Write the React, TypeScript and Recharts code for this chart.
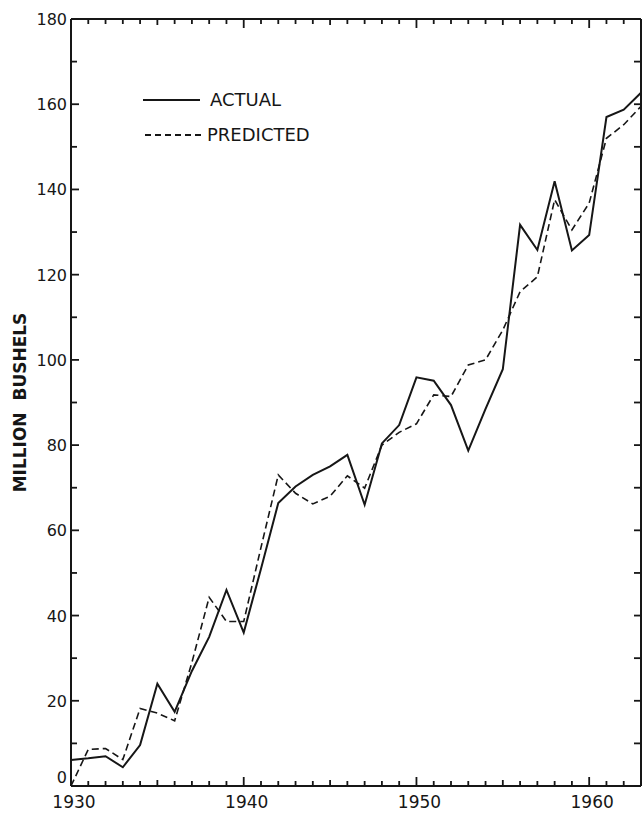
import { LineChart, Line, XAxis, YAxis } from 'recharts'

const years = [
  1930, 1931, 1932, 1933, 1934, 1935, 1936, 1937, 1938, 1939, 1940, 1941,
  1942, 1943, 1944, 1945, 1946, 1947, 1948, 1949, 1950, 1951, 1952, 1953,
  1954, 1955, 1956, 1957, 1958, 1959, 1960, 1961, 1962, 1963,
]
const actual = [
  6.1, 6.5, 7, 4.4, 9.6, 24, 17.4, 27, 35, 46, 36, 51,
  66.4, 70.3, 73, 75, 77.7, 66, 80.4, 84.7, 95.9, 95.1, 89.4, 78.7,
  88.5, 97.8, 131.7, 125.8, 141.9, 125.7, 129.3, 157, 158.7, 162.7,
]
const predicted = [
  0, 8.6, 8.8, 6.2, 18.2, 17.1, 15.3, 29, 44.3, 38.6, 38.6, 56,
  73, 68.7, 66.2, 68, 72.8, 69.9, 80, 83, 85, 91.8, 91.4, 98.8,
  100, 107, 116, 119.5, 137.6, 130.5, 136.8, 152, 155.2, 159.5,
]
const valueTicks = [0, 10, 20, 30, 40, 50, 60, 70, 80, 90, 100, 110, 120, 130, 140, 150, 160, 170, 180]
const seriesNames = ['ACTUAL', 'PREDICTED']
const axisTitle = 'MILLION  BUSHELS'

const data = years.map((year, i) => ({ year, actual: actual[i], predicted: predicted[i] }))

const FONT = '"DejaVu Sans", sans-serif'
const INK = '#161616'

function yearTickLen(v: number) {
  if (v % 10 === 0) return 9
  if (v % 5 === 0) return 6
  return 5
}

function BottomTick({ x, y, payload }: any) {
  const v = payload.value
  return (
    <g>
      <line x1={x} y1={y} x2={x} y2={y - yearTickLen(v)} stroke={INK} strokeWidth={1.8} />
      {v % 10 === 0 && (
        <text x={x + 3} y={y + 22} textAnchor="middle" fontSize={17} fontFamily={FONT} fill={INK}>
          {v}
        </text>
      )}
    </g>
  )
}

function TopTick({ x, y, payload }: any) {
  const v = payload.value
  return <line x1={x} y1={y} x2={x} y2={y + yearTickLen(v)} stroke={INK} strokeWidth={1.8} />
}

function LeftTick({ x, y, payload }: any) {
  const v = payload.value
  const major = v % 20 === 0
  return (
    <g>
      <line x1={x} y1={y} x2={x + (major ? 8 : 6)} y2={y} stroke={INK} strokeWidth={1.8} />
      {major && (
        <text
          x={x - 4}
          y={v === 0 ? y - 3 : y + 6}
          textAnchor="end"
          fontSize={16}
          fontFamily={FONT}
          fill={INK}
        >
          {v}
        </text>
      )}
    </g>
  )
}

function RightTick({ x, y }: any) {
  return <line x1={x} y1={y} x2={x - 7} y2={y} stroke={INK} strokeWidth={1.8} />
}

function ChartLegend() {
  return (
    <div
      style={{
        position: 'absolute',
        left: 143,
        top: 82,
        fontFamily: FONT,
        fontSize: 18,
        color: INK,
      }}
    >
      {seriesNames.map((name, i) => (
        <div key={name} style={{ display: 'flex', alignItems: 'center', height: 35 }}>
          <svg width={64} height={10} style={{ marginRight: i === 0 ? 3 : 0 }}>
            <line
              x1={i === 0 ? 0 : 2}
              y1={5}
              x2={i === 0 ? 57 : 62}
              y2={5}
              stroke={INK}
              strokeWidth={i === 0 ? 2 : 1.8}
              strokeDasharray={i === 0 ? undefined : '6 4'}
            />
          </svg>
          <span>{name}</span>
        </div>
      ))}
    </div>
  )
}

export default function App() {
  return (
    <div style={{ position: 'absolute', left: 0, top: 0, width: 642, height: 813, background: '#fff' }}>
      <LineChart width={642} height={813} data={data} margin={{ top: 18, right: 0, bottom: 0, left: 0 }}>
        <XAxis
          dataKey="year"
          type="number"
          domain={[1930, 1963]}
          ticks={years}
          interval={0}
          height={27}
          tickSize={0}
          tickMargin={0}
          tick={<BottomTick />}
          axisLine={{ stroke: INK, strokeWidth: 2 }}
          tickLine={false}
        />
        <XAxis
          xAxisId="top"
          dataKey="year"
          orientation="top"
          type="number"
          domain={[1930, 1963]}
          ticks={years}
          interval={0}
          height={1}
          tickSize={0}
          tickMargin={0}
          tick={<TopTick />}
          axisLine={{ stroke: INK, strokeWidth: 2 }}
          tickLine={false}
        />
        <YAxis
          type="number"
          domain={[0, 180]}
          ticks={valueTicks}
          interval={0}
          width={71}
          tickSize={0}
          tickMargin={0}
          tick={<LeftTick />}
          axisLine={{ stroke: INK, strokeWidth: 2 }}
          tickLine={false}
          label={{
            content: ({ viewBox }: any) => {
              const cx = viewBox.x + 20
              const cy = viewBox.y + viewBox.height / 2
              return (
                <text
                  x={cx}
                  y={cy}
                  transform={`rotate(-90 ${cx} ${cy})`}
                  textAnchor="middle"
                  dominantBaseline="central"
                  fontSize={17}
                  fontWeight="bold"
                  fontFamily={FONT}
                  fill={INK}
                  style={{ whiteSpace: 'pre' }}
                >
                  {axisTitle}
                </text>
              )
            },
          }}
        />
        <YAxis
          yAxisId="right"
          orientation="right"
          type="number"
          domain={[0, 180]}
          ticks={valueTicks}
          interval={0}
          width={1}
          tickSize={0}
          tickMargin={0}
          tick={<RightTick />}
          axisLine={{ stroke: INK, strokeWidth: 2 }}
          tickLine={false}
        />
        <Line
          dataKey="actual"
          name={seriesNames[0]}
          type="linear"
          stroke={INK}
          strokeWidth={2}
          dot={false}
          isAnimationActive={false}
        />
        <Line
          dataKey="predicted"
          name={seriesNames[1]}
          type="linear"
          stroke={INK}
          strokeWidth={1.6}
          strokeDasharray="7 4"
          dot={false}
          isAnimationActive={false}
        />
        {/* hidden series so the top and right frame axes get a domain */}
        <Line
          xAxisId="top"
          yAxisId="right"
          dataKey="actual"
          stroke="none"
          dot={false}
          activeDot={false}
          legendType="none"
          isAnimationActive={false}
        />
      </LineChart>
      <ChartLegend />
    </div>
  )
}
